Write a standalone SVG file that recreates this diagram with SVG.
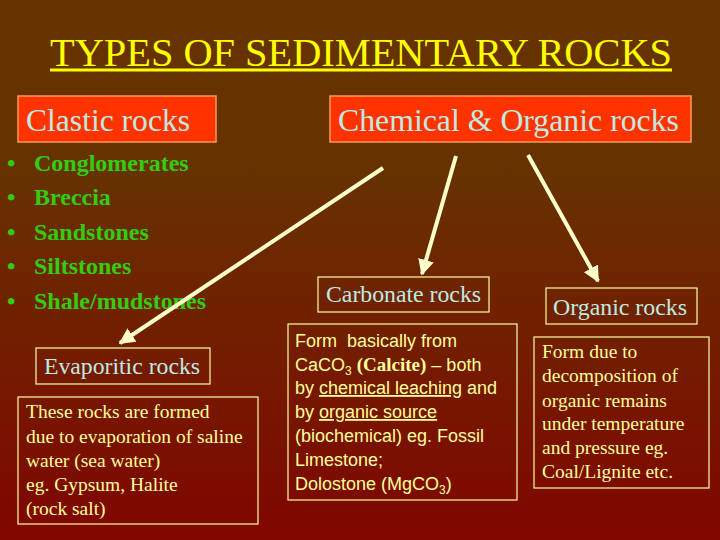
<svg xmlns="http://www.w3.org/2000/svg" width="720" height="540" viewBox="0 0 720 540">
<defs>
<linearGradient id="bg" x1="0" y1="0" x2="0" y2="1">
<stop offset="0" stop-color="#663300"/>
<stop offset="0.3" stop-color="#663300"/>
<stop offset="1" stop-color="#800600"/>
</linearGradient>
<marker id="ah" viewBox="0 0 10 10" refX="9" refY="5" markerWidth="4" markerHeight="4" orient="auto" markerUnits="strokeWidth">
<path d="M0,0 L10,5 L0,10 z" fill="#FFFFCC"/>
</marker>
<style>
.hbox{fill:#FF3300;stroke:#FF9955;stroke-width:1.5}
.sbox{fill:none;stroke:#FFFF99;stroke-width:1.2}
.head{font-family:"Liberation Serif","Times New Roman",serif;fill:#BFEAE0}
.bul{font-family:"Liberation Serif","Times New Roman",serif;font-weight:bold;font-size:24px;fill:#33CC11}
.desc{font-family:"Liberation Serif","Times New Roman",serif;font-size:19.5px;fill:#FFFF99}
.sans{font-family:"Liberation Sans",Arial,sans-serif;font-size:18px;fill:#FFFF99;white-space:pre}
.arrow{stroke:#FFFFCC;stroke-width:4;fill:none;marker-end:url(#ah)}
</style>
</defs>
<rect width="720" height="540" fill="url(#bg)"/>
<g id="title">
<text x="50" y="66" font-family="Liberation Serif, Times New Roman, serif" font-size="40" fill="#FFFF00" textLength="622" lengthAdjust="spacingAndGlyphs">TYPES OF SEDIMENTARY ROCKS</text>
<rect x="50" y="68.5" width="622" height="3" fill="#FFFF00"/>
</g>
<g id="clastic">
<rect class="hbox" x="18" y="96" width="198" height="46"/>
<text class="head" x="26" y="131" font-size="31" textLength="164" lengthAdjust="spacingAndGlyphs">Clastic rocks</text>
</g>
<g id="clastic-list">
<text class="bul" x="7" y="171">•</text><text class="bul" x="34" y="171">Conglomerates</text>
<text class="bul" x="7" y="205">•</text><text class="bul" x="34" y="205">Breccia</text>
<text class="bul" x="7" y="240">•</text><text class="bul" x="34" y="240">Sandstones</text>
<text class="bul" x="7" y="274">•</text><text class="bul" x="34" y="274">Siltstones</text>
<text class="bul" x="7" y="309">•</text><text class="bul" x="34" y="309">Shale/mudstones</text>
</g>
<g id="chemorg">
<rect class="hbox" x="330" y="96" width="361" height="46"/>
<text class="head" x="338" y="131" font-size="31" textLength="341" lengthAdjust="spacingAndGlyphs">Chemical &amp; Organic rocks</text>
</g>
<g id="connectors">
<line class="arrow" x1="383" y1="168" x2="120" y2="343"/>
<line class="arrow" x1="456" y1="156" x2="422" y2="274"/>
<line class="arrow" x1="528" y1="155" x2="598" y2="281"/>
</g>
<g id="evaporitic">
<rect class="sbox" x="36" y="348" width="174" height="36"/>
<text class="head" x="44" y="374" font-size="24" textLength="156" lengthAdjust="spacingAndGlyphs">Evaporitic rocks</text>
</g>
<g id="evaporitic-desc">
<rect class="sbox" x="18" y="397" width="240" height="127"/>
<text class="desc" x="26" y="418">These rocks are formed</text>
<text class="desc" x="26" y="443">due to evaporation of saline</text>
<text class="desc" x="26" y="467">water (sea water)</text>
<text class="desc" x="26" y="491">eg. Gypsum, Halite</text>
<text class="desc" x="26" y="515">(rock salt)</text>
</g>
<g id="carbonate">
<rect class="sbox" x="318" y="277" width="171" height="35"/>
<text class="head" x="326" y="302" font-size="24" textLength="155" lengthAdjust="spacingAndGlyphs">Carbonate rocks</text>
</g>
<g id="carbonate-desc">
<rect class="sbox" x="288" y="324" width="229" height="176"/>
<text class="sans" x="295" y="347">Form  basically from</text>
<text class="sans" x="295" y="371">CaCO<tspan font-size="12" dy="4">3</tspan><tspan dy="-4"> </tspan><tspan font-family="Liberation Serif, Times New Roman, serif" font-weight="bold" font-size="19">(Calcite)</tspan> – both</text>
<text class="sans" x="295" y="394">by <tspan text-decoration="underline">chemical leaching</tspan> and</text>
<text class="sans" x="295" y="418">by <tspan text-decoration="underline">organic source</tspan></text>
<text class="sans" x="295" y="442">(biochemical) eg. Fossil</text>
<text class="sans" x="295" y="466">Limestone;</text>
<text class="sans" x="295" y="490">Dolostone (MgCO<tspan font-size="12" dy="4">3</tspan><tspan dy="-4">)</tspan></text>
</g>
<g id="organic">
<rect class="sbox" x="546" y="288" width="151" height="36"/>
<text class="head" x="553" y="315" font-size="24" textLength="134" lengthAdjust="spacingAndGlyphs">Organic rocks</text>
</g>
<g id="organic-desc">
<rect class="sbox" x="534" y="337" width="175" height="151"/>
<text class="desc" x="542" y="358">Form due to</text>
<text class="desc" x="542" y="382">decomposition of</text>
<text class="desc" x="542" y="407">organic remains</text>
<text class="desc" x="542" y="430">under temperature</text>
<text class="desc" x="542" y="454">and pressure eg.</text>
<text class="desc" x="542" y="478">Coal/Lignite etc.</text>
</g>
</svg>
